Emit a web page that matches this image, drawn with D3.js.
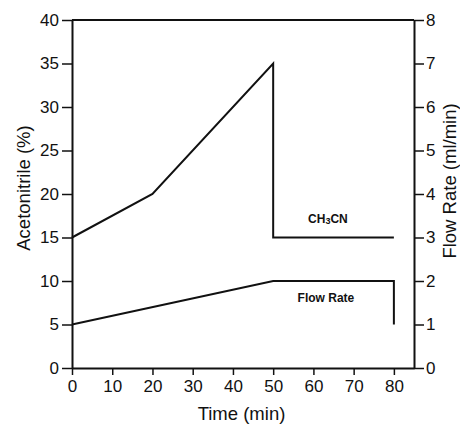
<!DOCTYPE html>
<html>
<head>
<meta charset="utf-8">
<script src="https://cdn.jsdelivr.net/npm/d3@7/dist/d3.min.js"></script>
<style>
  html, body { margin: 0; padding: 0; background: #fff; }
  svg { display: block; font-family: "Liberation Sans", Arial, sans-serif; }
  .tick text { font-size: 17px; fill: #111; }
</style>
</head>
<body>
<svg id="chart" width="460" height="424"></svg>
<script>
// Gradient program: acetonitrile (%) and flow rate (ml/min) vs time
const timeTicks = [0, 10, 20, 30, 40, 50, 60, 70, 80];
const pctTicks = [0, 5, 10, 15, 20, 25, 30, 35, 40];
const flowTicks = [0, 1, 2, 3, 4, 5, 6, 7, 8];

const acnTime = [0, 20, 50, 50, 80];
const acnPct = [15, 20, 35, 15, 15];

const flowTime = [0, 50, 80, 80];
const flowRate = [1, 2, 2, 1];

const svg = d3.select("#chart");
const plotLeft = 72, plotRight = 414, plotTop = 20, plotBottom = 368;

const x = d3.scaleLinear().domain([0, 85]).range([plotLeft, plotRight]);
const yL = d3.scaleLinear().domain([0, 40]).range([plotBottom, plotTop]);
const yR = d3.scaleLinear().domain([0, 8]).range([plotBottom, plotTop]);

const ink = "#111";

// frame: top edge
svg.append("line")
  .attr("x1", plotLeft).attr("x2", plotRight).attr("y1", plotTop).attr("y2", plotTop)
  .attr("stroke", ink).attr("stroke-width", 2);

const xAxis = svg.append("g").attr("transform", `translate(0,${plotBottom})`)
  .call(d3.axisBottom(x).tickValues(timeTicks).tickSize(7).tickPadding(5).tickSizeOuter(0));
const yAxisL = svg.append("g").attr("transform", `translate(${plotLeft},0)`)
  .call(d3.axisLeft(yL).tickValues(pctTicks).tickSize(10).tickPadding(3).tickSizeOuter(0));
const yAxisR = svg.append("g").attr("transform", `translate(${plotRight},0)`)
  .call(d3.axisRight(yR).tickValues(flowTicks).tickSize(10).tickPadding(2).tickSizeOuter(0));

[xAxis, yAxisL, yAxisR].forEach(g => {
  g.attr("font-family", null).attr("font-size", null);
  g.select(".domain").attr("stroke", ink).attr("stroke-width", 2);
  g.selectAll(".tick line").attr("stroke", ink).attr("stroke-width", 1.5);
});

// data lines
const lineL = d3.line().x(d => x(d[0])).y(d => yL(d[1]));
const lineR = d3.line().x(d => x(d[0])).y(d => yR(d[1]));

svg.append("path")
  .datum(acnTime.map((t, i) => [t, acnPct[i]]))
  .attr("d", lineL).attr("fill", "none").attr("stroke", ink).attr("stroke-width", 2);

svg.append("path")
  .datum(flowTime.map((t, i) => [t, flowRate[i]]))
  .attr("d", lineR).attr("fill", "none").attr("stroke", ink).attr("stroke-width", 2);

// series labels
const acnLabel = svg.append("text")
  .attr("x", x(63.6)).attr("y", yL(16.67))
  .attr("text-anchor", "middle").attr("font-size", 12).attr("font-weight", "bold").attr("fill", ink);
acnLabel.append("tspan").text("CH");
acnLabel.append("tspan").attr("font-size", 9).attr("dy", 1.5).text("3");
acnLabel.append("tspan").attr("dy", -1.5).text("CN");

svg.append("text")
  .attr("x", x(63.1)).attr("y", yR(1.524))
  .attr("text-anchor", "middle").attr("font-size", 12).attr("font-weight", "bold").attr("fill", ink)
  .text("Flow Rate");

// axis titles
svg.append("text")
  .attr("x", 241.5).attr("y", 420)
  .attr("text-anchor", "middle").attr("font-size", 18.5).attr("fill", ink)
  .text("Time (min)");

svg.append("text")
  .attr("transform", `translate(30,188) rotate(-90)`)
  .attr("text-anchor", "middle").attr("font-size", 18.5).attr("fill", ink)
  .text("Acetonitrile (%)");

svg.append("text")
  .attr("transform", `translate(456,181) rotate(-90)`)
  .attr("text-anchor", "middle").attr("font-size", 18.5).attr("fill", ink)
  .text("Flow Rate (ml/min)");
</script>
</body>
</html>
